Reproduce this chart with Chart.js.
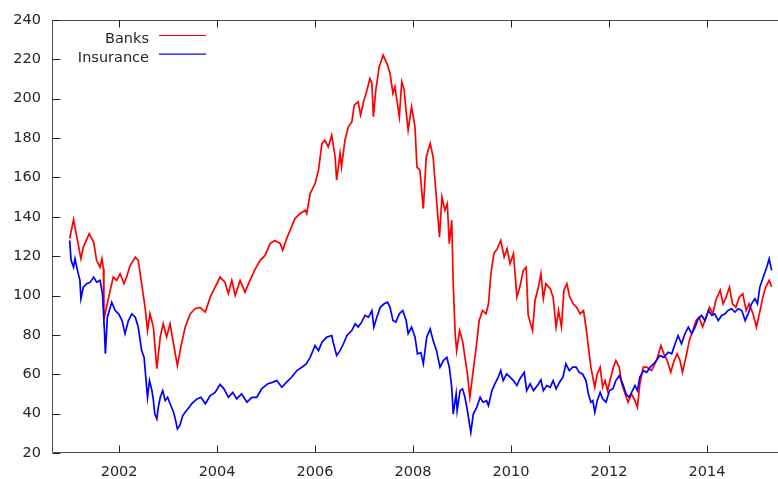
<!DOCTYPE html>
<html><head><meta charset="utf-8">
<script src="https://cdn.jsdelivr.net/npm/chart.js@4/dist/chart.umd.min.js"></script>
<style>html,body{margin:0;padding:0;background:#fff;}#wrap{width:778px;height:479px;}</style>
</head><body><div id="wrap"><canvas id="c" width="778" height="479"></canvas></div>
<script>
const seriesNames = ['Banks', 'Insurance'];
const bankDates = [2000.99,2001.07,2001.15,2001.22,2001.27,2001.39,2001.48,2001.54,2001.61,2001.65,
2001.68,2001.69,2001.78,2001.88,2001.95,2002.02,2002.10,2002.16,2002.22,2002.33,
2002.39,2002.46,2002.53,2002.58,2002.63,2002.70,2002.77,2002.84,2002.90,2002.97,
2003.04,2003.11,2003.19,2003.26,2003.35,2003.45,2003.55,2003.65,2003.76,2003.86,
2003.96,2004.06,2004.16,2004.23,2004.30,2004.37,2004.47,2004.57,2004.67,2004.78,
2004.88,2004.98,2005.08,2005.18,2005.29,2005.34,2005.42,2005.49,2005.59,2005.69,
2005.80,2005.83,2005.90,2006.00,2006.07,2006.14,2006.20,2006.27,2006.34,2006.41,
2006.44,2006.51,2006.54,2006.61,2006.68,2006.75,2006.80,2006.88,2006.93,2006.99,
2007.06,2007.12,2007.16,2007.19,2007.24,2007.31,2007.39,2007.48,2007.53,2007.59,
2007.63,2007.68,2007.72,2007.77,2007.82,2007.86,2007.90,2007.97,2008.04,2008.08,
2008.14,2008.21,2008.27,2008.35,2008.41,2008.47,2008.54,2008.59,2008.65,2008.70,
2008.74,2008.79,2008.82,2008.86,2008.89,2008.95,2009.01,2009.06,2009.11,2009.16,
2009.22,2009.29,2009.35,2009.42,2009.49,2009.54,2009.59,2009.65,2009.72,2009.79,
2009.86,2009.92,2009.98,2010.05,2010.12,2010.18,2010.25,2010.31,2010.35,2010.44,
2010.49,2010.56,2010.61,2010.66,2010.71,2010.80,2010.86,2010.92,2010.97,2011.03,
2011.08,2011.14,2011.20,2011.27,2011.34,2011.41,2011.48,2011.53,2011.58,2011.63,
2011.67,2011.71,2011.76,2011.82,2011.87,2011.92,2011.97,2012.02,2012.09,2012.14,
2012.21,2012.26,2012.33,2012.39,2012.46,2012.53,2012.58,2012.63,2012.70,2012.77,
2012.87,2012.97,2013.06,2013.12,2013.19,2013.26,2013.33,2013.39,2013.45,2013.50,
2013.57,2013.64,2013.71,2013.78,2013.84,2013.91,2013.98,2014.05,2014.12,2014.18,
2014.27,2014.33,2014.39,2014.46,2014.52,2014.59,2014.66,2014.73,2014.80,2014.86,
2014.94,2015.01,2015.07,2015.14,2015.20,2015.27,2015.32];
const bankValues = [129,138.6,128,118.7,124.6,131.4,127.2,117.9,114.4,118.7,
113.6,88,98.4,109.4,107.7,111.1,106,110,115,119.5,
117.9,106,94,82.2,90.7,84,62.8,79,85.7,79,
85.7,75.5,64.4,74,84,90.7,93.3,94,91.6,99.2,
104.3,109.4,106.8,101,107.7,100,107.7,101.7,107.7,113.6,
117.9,120.4,126.4,128,126.4,123,128.9,133.1,139.1,141.6,
143.3,141.6,151.8,156.9,163.7,177.3,178.9,175.5,181.5,170.4,
158.6,172.2,165.3,178.9,185.7,188.2,196.7,198.4,191.7,198.4,
204.4,210.3,207.8,190.8,204.4,216.3,222.2,217.1,212.9,202.7,
206.1,197.6,190.8,208.6,204.4,193.3,184,195.9,185.7,165.3,
163.7,144.2,170.4,177.3,170.4,151.8,129.7,150.1,143.3,146.7,
126.4,138.2,106,80.6,72,82.2,77.1,68.6,60.2,48.3,
60.2,73.8,87.3,92.4,90.7,95.8,111.1,121.3,123.8,128,
119.5,123.8,116.2,121.3,99.2,104.3,112.8,114.4,90,82.2,
97.5,104.3,111.1,98.4,106,103.5,99.2,84,92.4,84,
102.7,106,99.2,95.8,94,90.7,92.4,84,73.8,63.6,
58.5,53.4,60.2,63.6,53.4,56.8,51.7,56.8,63.6,67,
63.6,55.1,50,45.8,50,46.6,43.2,55.1,63.6,63.6,
61.9,67,74.6,70.4,67,61,67,70.4,67,61,
68.6,77.1,82.2,87.3,89,84,89,94,90.7,97.5,
102.7,95.8,99.2,104.3,95.8,94,99.2,100.9,92.4,95.8,
90.7,84,90.7,99.2,104.3,107.7,104.3];
const insuranceDates = [2000.99,2001.02,2001.07,2001.10,2001.15,2001.20,2001.22,2001.27,2001.34,2001.41,
2001.48,2001.54,2001.61,2001.66,2001.70,2001.72,2001.76,2001.82,2001.85,2001.92,
2001.99,2002.06,2002.12,2002.19,2002.26,2002.33,2002.39,2002.46,2002.51,2002.55,
2002.58,2002.62,2002.67,2002.70,2002.73,2002.77,2002.80,2002.84,2002.89,2002.94,
2002.99,2003.04,2003.10,2003.14,2003.19,2003.24,2003.30,2003.37,2003.43,2003.48,
2003.59,2003.67,2003.76,2003.86,2003.96,2004.06,2004.14,2004.23,2004.32,2004.40,
2004.50,2004.61,2004.71,2004.81,2004.91,2005.03,2005.14,2005.22,2005.32,2005.42,
2005.52,2005.63,2005.73,2005.82,2005.90,2006.00,2006.07,2006.14,2006.24,2006.34,
2006.37,2006.44,2006.51,2006.58,2006.65,2006.75,2006.82,2006.88,2006.95,2007.02,
2007.09,2007.16,2007.20,2007.26,2007.33,2007.41,2007.48,2007.53,2007.59,2007.65,
2007.72,2007.79,2007.86,2007.90,2007.97,2008.04,2008.09,2008.16,2008.21,2008.28,
2008.35,2008.41,2008.48,2008.55,2008.62,2008.69,2008.74,2008.79,2008.82,2008.88,
2008.90,2008.96,2009.01,2009.06,2009.11,2009.18,2009.23,2009.30,2009.37,2009.43,
2009.50,2009.54,2009.61,2009.67,2009.74,2009.79,2009.84,2009.91,2009.98,2010.05,
2010.12,2010.18,2010.27,2010.32,2010.39,2010.46,2010.56,2010.61,2010.66,2010.73,
2010.80,2010.86,2010.92,2010.99,2011.06,2011.12,2011.19,2011.26,2011.33,2011.39,
2011.46,2011.53,2011.58,2011.63,2011.67,2011.71,2011.76,2011.82,2011.87,2011.94,
2012.01,2012.08,2012.14,2012.21,2012.28,2012.35,2012.41,2012.48,2012.53,2012.58,
2012.63,2012.70,2012.77,2012.84,2012.94,2013.04,2013.12,2013.21,2013.28,2013.35,
2013.41,2013.48,2013.55,2013.62,2013.69,2013.76,2013.82,2013.89,2013.96,2014.03,
2014.10,2014.16,2014.23,2014.30,2014.37,2014.43,2014.50,2014.57,2014.64,2014.71,
2014.78,2014.84,2014.91,2014.98,2015.03,2015.08,2015.15,2015.22,2015.27,2015.32];
const insuranceValues = [128,117.9,114.4,118.7,112.8,107.7,98.4,104.3,106,106.8,
109.4,106.8,107.7,101,82.2,70.4,89,94,96.6,92.4,
90.7,87.3,80.6,87.3,90.7,89,84,72,68.6,56.8,
48.3,56.8,51.7,46.6,39.8,37.3,43.2,48.3,51.7,46.6,
48.3,45,41.5,38.1,32.2,34,39,41.5,43.2,45,
47.5,48.3,45,49.2,50.8,54.8,52.6,48.3,50.8,47.5,
50,45.8,48.3,48.3,52.6,55.1,56,56.8,53.4,56,
58.5,61.9,63.6,65.3,68.6,74.6,72,76.3,78.9,79.7,
76.3,69.5,72,75.5,79.7,82.2,85.7,84,86.5,89.9,
89,92.4,84,89,94,95.8,96.6,94,87.3,86.5,
90.7,92.4,87.3,80.6,84,79,70.4,71,65.3,79,
83.1,77.1,72,63.6,67,68.6,63.6,53.4,39.8,50,
41.5,51.7,52.6,48.3,41.5,30.5,39.8,43.2,48.3,45.8,
46.6,44.1,51.7,55.1,58.5,61.9,56.8,60.2,58.5,56.8,
54.3,57.6,61,51.7,55.1,51.7,55.1,57.2,51.7,54.3,
53.4,56.8,52.6,56,58.5,65.3,61.9,63.6,63.6,61,
60.2,56.8,50,45.8,46.6,40.6,46.6,50.8,47.5,45.8,
51.7,52.6,56.8,59.3,55.1,50,48.3,51.7,54.3,51.7,
58.5,61.9,61,63.6,66.1,69.5,68.6,71.2,70.4,75.5,
79.7,75.5,80.6,84,80.6,84,88.2,89.9,87.3,92.4,
89.9,90.7,87.3,89.9,90.7,92.4,93.3,91.6,93.3,92.4,
87.3,90.7,95.8,98.4,95.8,104.3,109.4,114.4,118.7,112.8];
const yearTicks = [2002, 2004, 2006, 2008, 2010, 2012, 2014];
const valueTicks = [20, 40, 60, 80, 100, 120, 140, 160, 180, 200, 220, 240];
const xRange = [2000.63, 2015.45];
const yRange = [20, 240];

const FONT = { family: '"DejaVu Sans", sans-serif', size: 14.5 };
const INK = '#262626';
const FRAME = '#505050';
const COLORS = ['#ff0000', '#0000ff'];

const framePlugin = {
  id: 'frame',
  afterDatasetsDraw(chart) {
    const { ctx, chartArea: a, scales } = chart;
    const L = Math.round(a.left) + 0.5, T = Math.round(a.top) + 0.5, B = Math.round(a.bottom) - 0.5, R = chart.width;
    ctx.save();
    ctx.strokeStyle = FRAME; ctx.lineWidth = 1;
    ctx.beginPath();
    ctx.moveTo(R, T); ctx.lineTo(L, T); ctx.lineTo(L, B); ctx.lineTo(R, B);
    ctx.stroke();
    ctx.strokeStyle = '#222';
    ctx.beginPath();
    yearTicks.forEach(v => {
      const px = Math.round(scales.x.getPixelForValue(v)) + 0.5;
      ctx.moveTo(px, B); ctx.lineTo(px, B - 7);
      ctx.moveTo(px, T); ctx.lineTo(px, T + 7);
    });
    valueTicks.forEach(v => {
      const py = Math.round(scales.y.getPixelForValue(v)) + 0.5;
      ctx.moveTo(L, py); ctx.lineTo(L + 8, py);
    });
    ctx.stroke();
    ctx.restore();
  },
  afterDraw(chart) {
    const { ctx } = chart;
    ctx.save();
    ctx.font = FONT.size + 'px ' + FONT.family;
    ctx.fillStyle = INK;
    ctx.textAlign = 'right';
    ctx.textBaseline = 'alphabetic';
    chart.data.datasets.forEach((ds, i) => {
      const ty = 43 + i * 18.5;
      const ly = 35.5 + i * 18.7;
      ctx.fillText(ds.label, 149, ty);
      ctx.strokeStyle = ds.borderColor; ctx.lineWidth = 1.2;
      ctx.beginPath(); ctx.moveTo(159, ly); ctx.lineTo(206, ly); ctx.stroke();
    });
    ctx.restore();
  }
};

const toPoints = (ts, vs) => ts.map((t, i) => ({ x: t, y: vs[i] }));

new Chart(document.getElementById('c').getContext('2d'), {
  type: 'line',
  data: {
    datasets: [
      { label: seriesNames[0], data: toPoints(bankDates, bankValues), borderColor: COLORS[0], borderWidth: 1.7, pointRadius: 0, tension: 0, fill: false, order: 2 },
      { label: seriesNames[1], data: toPoints(insuranceDates, insuranceValues), borderColor: COLORS[1], borderWidth: 1.7, pointRadius: 0, tension: 0, fill: false, order: 1 }
    ]
  },
  options: {
    responsive: false,
    animation: false,
    events: [],
    layout: { padding: { top: 20, left: 0, right: 0, bottom: 0 } },
    plugins: { legend: { display: false }, tooltip: { enabled: false }, title: { display: false } },
    scales: {
      x: {
        type: 'linear', min: xRange[0], max: xRange[1],
        afterFit(s) { s.height = 26; },
        afterBuildTicks(s) { s.ticks = yearTicks.map(v => ({ value: v })); },
        grid: { display: false, drawTicks: false },
        border: { display: false },
        ticks: { font: FONT, color: INK, padding: 11, maxRotation: 0, autoSkip: false, callback: v => String(v) }
      },
      y: {
        min: yRange[0], max: yRange[1],
        afterFit(s) { s.width = 52; },
        afterBuildTicks(s) { s.ticks = valueTicks.map(v => ({ value: v })); },
        grid: { display: false, drawTicks: false },
        border: { display: false },
        ticks: { font: FONT, color: INK, padding: 11, callback: v => String(v) }
      }
    }
  },
  plugins: [framePlugin]
});
</script>
</body></html>
